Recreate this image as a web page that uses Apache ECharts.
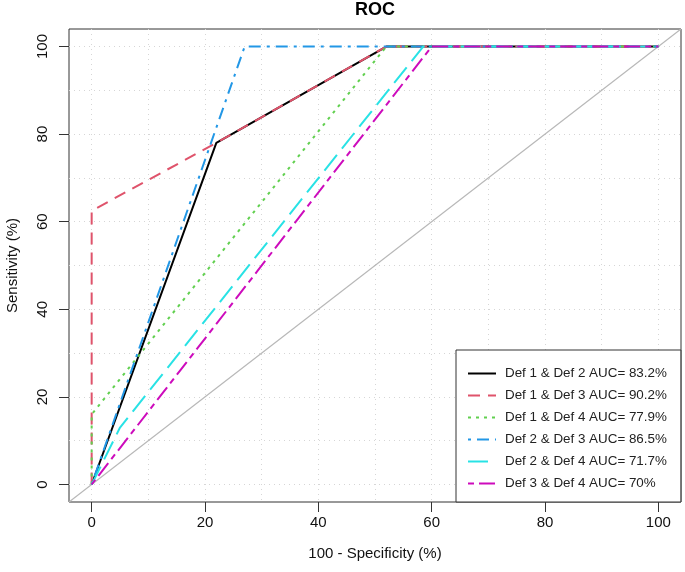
<!DOCTYPE html>
<html>
<head>
<meta charset="utf-8">
<script src="https://cdn.jsdelivr.net/npm/echarts@6/dist/echarts.min.js"></script>
<style>
  html, body { margin: 0; padding: 0; background: #fff; }
  #roc { width: 685px; height: 572px; }
</style>
</head>
<body>
<div id="roc"></div>
<script>
// 100 - specificity (x) and sensitivity (y), in %
const def12X = [0, 22, 52, 100];
const def12Y = [0, 78, 100, 100];
const def13X = [0, 0, 22, 52, 100];
const def13Y = [0, 62.5, 78, 100, 100];
const def14X = [0, 0, 52, 100];
const def14Y = [0, 16, 100, 100];
const def23X = [0, 27, 100];
const def23Y = [0, 100, 100];
const def24X = [0, 5, 58.5, 100];
const def24Y = [0, 13, 100, 100];
const def34X = [0, 60, 100];
const def34Y = [0, 100, 100];

const names = [
  'Def 1 & Def 2 AUC= 83.2%',
  'Def 1 & Def 3 AUC= 90.2%',
  'Def 1 & Def 4 AUC= 77.9%',
  'Def 2 & Def 3 AUC= 86.5%',
  'Def 2 & Def 4 AUC= 71.7%',
  'Def 3 & Def 4 AUC= 70%'
];
const tickLabels = [0, 20, 40, 60, 80, 100];
const gridValues = [0, 10, 20, 30, 40, 50, 60, 70, 80, 90, 100];
const diagonal = [-4, 104];

const colors = ['#000000', '#DF536B', '#61D04F', '#2297E6', '#28E2E5', '#CD0BBC'];
const dashes = ['solid', [12, 8], [3, 5], [3, 6, 12, 6], [20, 8], [6, 5, 16, 5]];

const zip = (xs, ys) => xs.map((x, i) => [x, ys[i]]);
const curves = [
  zip(def12X, def12Y), zip(def13X, def13Y), zip(def14X, def14Y),
  zip(def23X, def23Y), zip(def24X, def24Y), zip(def34X, def34Y)
];

const font = 'Liberation Sans, Arial, sans-serif';

const chart = echarts.init(document.getElementById('roc'));

const series = [];
// gray reference line across the whole box
series.push({
  type: 'line',
  data: zip(diagonal, diagonal),
  symbol: 'none',
  silent: true,
  lineStyle: { color: '#b8b8b8', width: 1.2 },
  z: 1
});
curves.forEach((c, i) => {
  series.push({
    name: names[i],
    type: 'line',
    data: c,
    symbol: 'none',
    lineStyle: { color: colors[i], width: 2, type: dashes[i], cap: 'butt' },
    itemStyle: { color: colors[i] },
    z: 2 + i
  });
});

const axisCommon = {
  type: 'value',
  min: -4,
  max: 104
};

chart.setOption({
  animation: false,
  title: {
    text: 'ROC',
    left: 375,
    top: 1,
    padding: 0,
    textAlign: 'center',
    textStyle: { fontFamily: font, fontSize: 18, fontWeight: 'bold', color: '#000' }
  },
  grid: {
    left: 69, right: 4, top: 29, bottom: 70,
    containLabel: false,
    outerBoundsMode: 'none',
    show: true, borderColor: '#333', borderWidth: 1, backgroundColor: '#fff'
  },
  legend: {
    orient: 'vertical',
    left: 456,
    top: 350,
    padding: [17, 14, 12, 11],
    itemWidth: 28,
    itemHeight: 14,
    itemGap: 9,
    backgroundColor: '#fff',
    borderColor: '#333',
    borderWidth: 1,
    borderRadius: 0,
    itemStyle: { opacity: 0 },
    textStyle: { fontFamily: font, fontSize: 13.4, color: '#222', padding: [0, 0, 0, 4] },
    data: names,
    z: 20
  },
  xAxis: [
    Object.assign({}, axisCommon, {
      name: '100 - Specificity (%)',
      nameLocation: 'middle',
      nameGap: 44,
      nameTextStyle: { fontFamily: font, fontSize: 15, color: '#111' },
      axisLine: { show: false, onZero: false },
      axisTick: { show: true, length: 10, customValues: tickLabels, lineStyle: { color: '#333' } },
      axisLabel: { customValues: tickLabels, margin: 13, fontFamily: font, fontSize: 15, color: '#111' },
      splitLine: { show: false }
    }),
    Object.assign({}, axisCommon, {
      position: 'bottom',
      axisLine: { show: false, onZero: false },
      axisTick: { show: false, customValues: gridValues },
      axisLabel: { show: false },
      splitLine: { show: true, lineStyle: { color: '#d6d6d6', width: 1, type: [1, 4] } }
    })
  ],
  yAxis: [
    Object.assign({}, axisCommon, {
      name: 'Sensitivity (%)',
      nameLocation: 'middle',
      nameGap: 49,
      nameTextStyle: { fontFamily: font, fontSize: 15, color: '#111' },
      axisLine: { show: false, onZero: false },
      axisTick: { show: true, length: 10, customValues: tickLabels, lineStyle: { color: '#333' } },
      axisLabel: { customValues: tickLabels, rotate: 90, margin: 19, fontFamily: font, fontSize: 15, color: '#111' },
      splitLine: { show: false }
    }),
    Object.assign({}, axisCommon, {
      position: 'left',
      axisLine: { show: false, onZero: false },
      axisTick: { show: false, customValues: gridValues },
      axisLabel: { show: false },
      splitLine: { show: true, lineStyle: { color: '#d6d6d6', width: 1, type: [1, 4] } }
    })
  ],
  series: series
});

window.addEventListener('resize', () => {
  chart.resize();
});
</script>
</body>
</html>
